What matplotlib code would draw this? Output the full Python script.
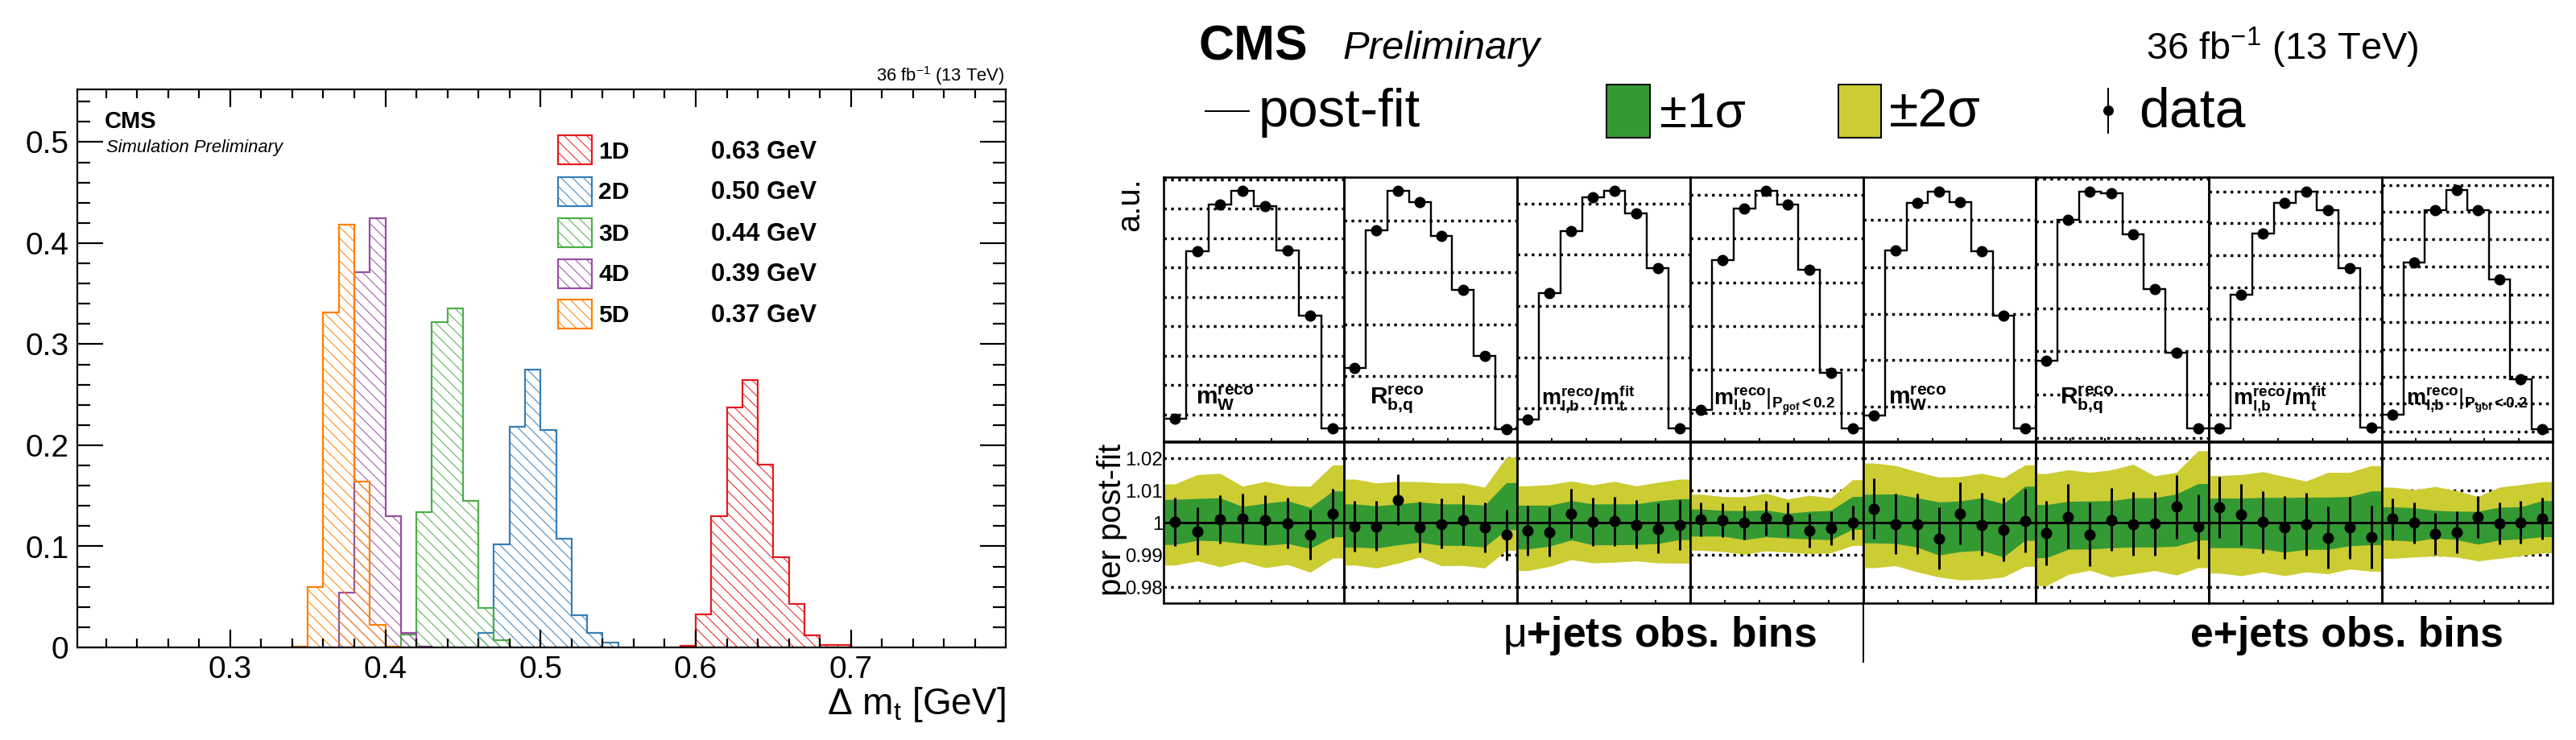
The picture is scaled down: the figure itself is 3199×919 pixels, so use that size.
import numpy as np
import matplotlib
matplotlib.use('Agg')
import matplotlib.pyplot as plt
from matplotlib.patches import Rectangle

# --- canvas ---
W, H = 3199, 919
DPI = 84

plt.rcParams['font.family'] = ['Liberation Sans', 'DejaVu Sans']
plt.rcParams['mathtext.fontset'] = 'custom'
plt.rcParams['mathtext.rm'] = 'Liberation Sans'
plt.rcParams['mathtext.it'] = 'Liberation Sans:italic'
plt.rcParams['mathtext.bf'] = 'Liberation Sans:bold'
plt.rcParams['hatch.linewidth'] = 0.85

# --- left panel: resolution histograms, bin width 0.01 GeV ---
labels_nd = ['1D', '2D', '3D', '4D', '5D']
widths_nd = ['0.63 GeV', '0.50 GeV', '0.44 GeV', '0.39 GeV', '0.37 GeV']
colors_nd = ['#e41a1c', '#377eb8', '#4daf4a', '#984ea3', '#ff7f00']
starts_nd = [0.59, 0.46, 0.41, 0.37, 0.34]
hist_1d = [0.0016, 0.0329, 0.130, 0.2377, 0.2648, 0.1811, 0.0892, 0.043, 0.012, 0.0024, 0.0024]
hist_2d = [0.0143, 0.102, 0.2183, 0.275, 0.215, 0.1076, 0.032, 0.0143, 0.0048]
hist_3d = [0.013, 0.1337, 0.322, 0.3353, 0.1453, 0.0388, 0.0072]
hist_4d = [0.054, 0.3715, 0.4245, 0.130, 0.0143, 0.001]
hist_5d = [0.001, 0.060, 0.3315, 0.418, 0.164, 0.0224, 0.001]
hists_nd = [hist_1d, hist_2d, hist_3d, hist_4d, hist_5d]

# --- right panel: 8 sub-panels, 8 bins each ---
panel_edges = [1445, 1669, 1884, 2099, 2314, 2528, 2743, 2958, 3170]
post_fit = [
    [.086, .719, .897, .948, .890, .724, .477, .048],
    [.278, .798, .948, .906, .777, .573, .324, .047],
    [.082, .561, .797, .923, .948, .864, .654, .049],
    [.120, .686, .882, .948, .895, .648, .258, .048],
    [.097, .724, .903, .946, .904, .719, .477, .048],
    [.305, .839, .946, .940, .784, .577, .336, .048],
    [.048, .554, .786, .903, .946, .874, .656, .051],
    [.101, .678, .876, .950, .876, .612, .234, .046],
]
grid_top = [
    [.991, .882, .768, .658, .547, .435, .324, .212, .100],
    [.835, .639, .442, .247, .052],
    [.899, .706, .512, .317, .124],
    [.934, .768, .602, .436, .271, .107],
    [.837, .659, .483, .308, .131],
    [.995, .833, .670, .504, .340, .176, .011],
    [.944, .825, .703, .583, .463, .341, .221, .100],
    [.970, .868, .765, .661, .556, .452, .349, .245, .142, .038],
]
# lower part, all in per mille offset from 1
band2_up = [
    [12.0, 14.9, 15.3, 11.3, 12.8, 11.4, 11.3, 17.9],
    [13.5, 12.3, 12.8, 12.7, 12.3, 12.3, 11.0, 20.3],
    [11.4, 11.8, 12.9, 11.7, 12.8, 11.4, 12.5, 13.5],
    [8.8, 8.1, 8.0, 9.1, 7.3, 8.5, 7.7, 13.3],
    [18.5, 17.7, 15.8, 14.1, 14.3, 15.3, 13.9, 17.9],
    [15.2, 16.4, 15.6, 16.4, 18.1, 14.5, 15.6, 22.3],
    [14.6, 14.9, 15.8, 14.3, 12.9, 15.6, 15.6, 17.7],
    [11.0, 10.2, 11.2, 9.9, 8.1, 11.0, 11.8, 12.7],
]
band1_up = [
    [7.2, 7.5, 7.7, 5.0, 6.0, 6.8, 4.7, 9.8],
    [5.8, 5.2, 5.8, 6.4, 5.8, 5.8, 5.4, 12.4],
    [5.4, 5.4, 6.8, 5.8, 5.8, 5.8, 6.8, 7.4],
    [4.2, 3.8, 3.7, 3.9, 2.9, 3.5, 3.8, 8.1],
    [8.8, 8.9, 7.7, 6.4, 6.7, 7.7, 5.8, 11.3],
    [5.6, 6.6, 6.7, 6.8, 7.7, 7.7, 8.9, 12.1],
    [7.6, 7.6, 7.8, 7.8, 7.9, 7.9, 8.1, 9.8],
    [4.9, 4.6, 3.8, 3.5, 3.5, 4.8, 4.9, 6.8],
]
band1_dn = [
    [-6.8, -5.5, -5.7, -6.5, -7.1, -6.5, -8.0, -4.4],
    [-7.6, -7.9, -6.9, -6.1, -7.1, -7.1, -7.6, -2.2],
    [-8.2, -7.3, -5.4, -6.9, -6.9, -6.8, -6.5, -5.3],
    [-4.2, -4.2, -5.3, -4.4, -4.8, -5.1, -5.3, -2.1],
    [-6.3, -6.5, -7.6, -10.1, -9.0, -8.6, -10.7, -5.5],
    [-10.9, -8.3, -8.2, -7.8, -7.6, -7.6, -7.3, -5.4],
    [-7.8, -7.8, -8.2, -9.2, -8.3, -8.3, -7.2, -6.9],
    [-5.4, -5.8, -4.8, -5.3, -6.7, -5.4, -5.1, -4.4],
]
band2_dn = [
    [-13.2, -11.9, -13.7, -12.0, -14.0, -13.0, -15.4, -11.0],
    [-13.2, -14.1, -12.6, -10.7, -13.4, -13.3, -14.1, -8.6],
    [-14.9, -13.6, -11.5, -12.5, -12.3, -11.9, -12.5, -12.6],
    [-8.6, -9.0, -9.8, -8.8, -9.2, -9.6, -9.4, -7.1],
    [-14.0, -13.4, -15.3, -16.9, -17.8, -17.6, -16.9, -13.6],
    [-19.6, -16.1, -14.8, -16.9, -15.9, -14.9, -16.3, -14.0],
    [-15.7, -16.5, -15.3, -16.5, -15.3, -15.9, -14.4, -15.1],
    [-11.1, -10.7, -10.3, -10.7, -11.9, -11.1, -10.3, -9.4],
]
ratio_data = [
    [0.2, -2.8, 1.0, 1.3, 0.8, -0.3, -3.8, 2.8],
    [-1.3, -1.3, 7.0, -1.5, -0.5, 0.8, -1.5, -3.8],
    [-2.5, -3.1, 2.8, 0.2, 0.4, -0.7, -1.9, -0.8],
    [1.0, 0.8, -0.1, 1.4, 1.0, -2.6, -1.8, -0.1],
    [4.3, -0.5, -0.4, -5.0, 2.8, -0.7, -2.2, 0.6],
    [-3.3, 1.8, -3.8, 0.8, -0.5, -0.3, 4.9, -1.3],
    [4.8, 2.4, 0.2, -1.5, -0.5, -4.7, -1.5, -4.4],
    [1.2, -0.1, -3.6, -3.1, 1.8, -0.3, 0.0, 1.3],
]
ratio_hi = [
    [7.7, 4.8, 8.5, 9.0, 8.5, 7.7, 4.1, 10.6],
    [6.8, 6.8, 14.9, 6.4, 7.5, 8.5, 6.3, 4.1],
    [5.3, 4.8, 10.6, 7.8, 8.1, 7.1, 5.9, 7.1],
    [6.3, 6.0, 5.3, 6.7, 6.3, 2.7, 3.5, 5.3],
    [13.8, 8.9, 9.0, 4.8, 12.6, 9.3, 7.8, 10.5],
    [6.8, 11.9, 6.3, 10.7, 9.6, 9.6, 14.8, 8.8],
    [14.3, 12.0, 9.8, 8.3, 9.3, 5.1, 8.1, 5.3],
    [7.5, 6.2, 2.9, 3.4, 8.3, 6.3, 6.8, 7.7],
]
ratio_lo = [
    [-7.2, -10.1, -6.5, -6.3, -6.7, -7.9, -11.6, -4.8],
    [-9.1, -8.8, -0.8, -9.2, -8.1, -7.0, -9.3, -11.7],
    [-10.2, -10.5, -4.8, -7.3, -7.2, -8.1, -9.4, -8.4],
    [-4.2, -4.4, -5.3, -4.1, -4.3, -7.8, -7.1, -5.2],
    [-4.9, -9.8, -9.7, -14.6, -6.8, -10.3, -12.1, -9.3],
    [-13.2, -8.1, -13.6, -8.8, -10.3, -10.2, -5.0, -11.2],
    [-4.8, -7.1, -9.6, -11.2, -10.2, -14.3, -11.3, -14.3],
    [-5.4, -6.6, -10.1, -9.5, -4.7, -6.7, -6.5, -5.3],
]
obs_labels = [
    r'$\mathbf{m}_{\mathbf{W}}^{\mathbf{reco}}$',
    r'$\mathbf{R}_{\mathbf{b{,}q}}^{\mathbf{reco}}$',
    r'$\mathbf{m}_{\mathbf{l{,}b}}^{\mathbf{reco}}\mathbf{/m}_{\mathbf{t}}^{\mathbf{fit}}$',
    r'$\mathbf{m}_{\mathbf{l{,}b}}^{\mathbf{reco}}|_{\mathbf{P_{gof}{<}0.2}}$',
]
obs_label_x = [1485, 1701, 1914, 2128, 2345, 2558, 2773, 2988]
obs_label_size = [30, 30, 27, 27]
ratio_ticks = [0.98, 0.99, 1, 1.01, 1.02]
ratio_ticklabels = ['0.98', '0.99', '1', '1.01', '1.02']

GREEN = '#339933'
YELLOW = '#cccc33'


def pt(px):
    return px * 72 / DPI


def px_axes(fig, x0, y0, x1, y1):
    return fig.add_axes([x0 / W, 1 - y1 / H, (x1 - x0) / W, (y1 - y0) / H])


fig = plt.figure(figsize=((W + 0.01) / DPI, (H + 0.01) / DPI), dpi=DPI, facecolor='white')

# 1. Left panel
ax = px_axes(fig, 95.6, 110.7, 1249, 804)
for vals, start, c in zip(hists_nd, starts_nd, colors_nd):
    edges = start + 0.01 * np.arange(len(vals) + 1)
    ax.stairs(vals, edges, fill=True, facecolor='none', edgecolor=c, hatch='\\\\', linewidth=pt(2.2))
ax.set_xlim(0.2013, 0.7998)
ax.set_ylim(0, 0.5524)
ax.set_xticks([0.3, 0.4, 0.5, 0.6, 0.7])
ax.set_xticklabels(['0.3', '0.4', '0.5', '0.6', '0.7'])
ax.set_xticks([x for x in np.arange(0.22, 0.8, 0.02) if abs(x * 10 - round(x * 10)) > 0.01], minor=True)
ax.set_yticks([0, 0.1, 0.2, 0.3, 0.4, 0.5])
ax.set_yticklabels(['0', '0.1', '0.2', '0.3', '0.4', '0.5'])
ax.set_yticks([y for y in np.arange(0.02, 0.55, 0.02) if abs(y * 10 - round(y * 10)) > 0.01], minor=True)
ax.tick_params(axis='x', which='major', direction='in', top=True, length=pt(22), width=pt(2.2), labelsize=pt(39), pad=pt(10))
ax.tick_params(axis='x', which='minor', direction='in', top=True, length=pt(11), width=pt(2.2))
ax.tick_params(axis='y', which='major', direction='in', right=True, length=pt(32), width=pt(2.2), labelsize=pt(39), pad=pt(10))
ax.tick_params(axis='y', which='minor', direction='in', right=True, length=pt(16), width=pt(2.2))
for s in ax.spines.values():
    s.set_linewidth(pt(2.2))

# 2. Right panel, upper and ratio parts
for i in range(8):
    x0, x1 = panel_edges[i], panel_edges[i + 1]
    edges = np.arange(9)
    centers = edges[:-1] + 0.5

    top = px_axes(fig, x0, 220, x1, 548)
    top.patch.set_alpha(0)
    for g in grid_top[i]:
        top.axhline(g, color='black', lw=pt(3.4), ls=(0, (1, 1.6)), zorder=1)
    top.stairs(post_fit[i], edges, color='black', lw=pt(2.4), baseline=None, zorder=3)
    top.plot(centers, post_fit[i], 'o', color='black', ms=pt(14), mew=0, zorder=4)
    top.set_xlim(0, 8)
    top.set_ylim(0, 1)

    low = px_axes(fig, x0, 548.7, x1, 749.3)
    low.patch.set_alpha(0)
    for g in ratio_ticks:
        low.axhline(g, color='black', lw=pt(3.4), ls=(0, (1, 1.6)), zorder=1)
    xs = np.r_[0, centers, 8]

    def edge_pad(v):
        return 1 + np.r_[v[0], v, v[-1]] / 1000

    low.fill_between(xs, edge_pad(band2_dn[i]), edge_pad(band2_up[i]), color=YELLOW, lw=0, zorder=2)
    low.fill_between(xs, edge_pad(band1_dn[i]), edge_pad(band1_up[i]), color=GREEN, lw=0, zorder=2.5)
    low.axhline(1, color='black', lw=pt(3), zorder=3)
    mid = 1 + np.array(ratio_data[i]) / 1000
    hi = 1 + np.array(ratio_hi[i]) / 1000
    lo = 1 + np.array(ratio_lo[i]) / 1000
    low.errorbar(centers, mid, yerr=[mid - lo, hi - mid], fmt='o', color='black', ms=pt(14), mew=0,
                 elinewidth=pt(3), capsize=pt(2.5), capthick=pt(3), zorder=4)
    low.set_xlim(0, 8)
    low.set_ylim(0.97493, 1.02508)

    for a in (top, low):
        a.set_xticks([1.6, 3.2, 4.8, 6.4])
        a.set_xticklabels([])
        a.tick_params(axis='x', direction='in', length=pt(4), width=pt(1.8))
        a.set_yticks([])
        for s in a.spines.values():
            s.set_linewidth(pt(2.6))
    if i == 0:
        low.set_yticks(ratio_ticks)
        low.set_yticklabels(ratio_ticklabels)
        low.tick_params(axis='y', length=0, labelsize=pt(24), pad=pt(1))

# 3. Texts and legends in canvas pixels
over = fig.add_axes([0, 0, 1, 1], zorder=10)
over.set_xlim(0, W)
over.set_ylim(H, 0)
over.axis('off')


def txt(x, y, s, size, **kw):
    kw.setdefault('va', 'baseline')
    return over.text(x, y, s, fontsize=pt(size), **kw)


txt(1249, 887, r'$\Delta$ m$_{\mathrm{t}}$ [GeV]', 46, ha='right')
txt(1248, 100.7, r'36 fb$^{-1}$ (13 TeV)', 22, ha='right')
txt(130, 159, 'CMS', 29, fontweight='bold')
txt(132, 189, 'Simulation Preliminary', 22, style='italic')

box_tops = [168, 220, 271, 322, 372]
text_base = [197, 247, 299, 349, 400]
for c, lab, val, yb, yt in zip(colors_nd, labels_nd, widths_nd, box_tops, text_base):
    over.add_patch(Rectangle((693, yb), 42, 36, facecolor='none', edgecolor=c, hatch='\\\\', linewidth=pt(2.2)))
    txt(743, yt, lab, 30, fontweight='bold')
    txt(883, yt, val, 31, fontweight='bold')

txt(1488, 74, 'CMS', 61, fontweight='bold')
txt(1667, 73, 'Preliminary', 49, style='italic')
txt(3004, 74, r'36 fb$^{-1}$ (13 TeV)', 47, ha='right')

over.plot([1497, 1551], [138, 138], color='black', lw=pt(2))
txt(1563, 157, 'post-fit', 67)
over.add_patch(Rectangle((1995, 105), 54, 66, facecolor=GREEN, edgecolor='black', linewidth=pt(2)))
txt(2061, 157, '±1σ', 62)
over.add_patch(Rectangle((2283, 105), 53, 66, facecolor=YELLOW, edgecolor='black', linewidth=pt(2)))
txt(2346, 157, '±2σ', 66)
over.errorbar([2618], [137.5], yerr=[[28.5], [28.5]], fmt='o', color='black', ms=pt(13), mew=0,
              elinewidth=pt(2), capsize=pt(4), capthick=pt(2))
txt(2656, 157, 'data', 68)

txt(1403, 220, 'a.u.', 40, rotation=90, ha='center', va='top')
txt(1381, 740, 'per post-fit', 40, rotation=90, ha='center', va='bottom')

for i, x in enumerate(obs_label_x):
    txt(x, 502, obs_labels[i % 4], obs_label_size[i % 4])

txt(1866, 803, r'$\mathrm{\mu}$+jets obs. bins', 51.6, fontweight='bold')
txt(2720, 803, 'e+jets obs. bins', 51.6, fontweight='bold')
over.plot([2314, 2314], [749, 822], color='black', lw=pt(2))

plt.savefig('out.png', dpi=DPI)
plt.close()
